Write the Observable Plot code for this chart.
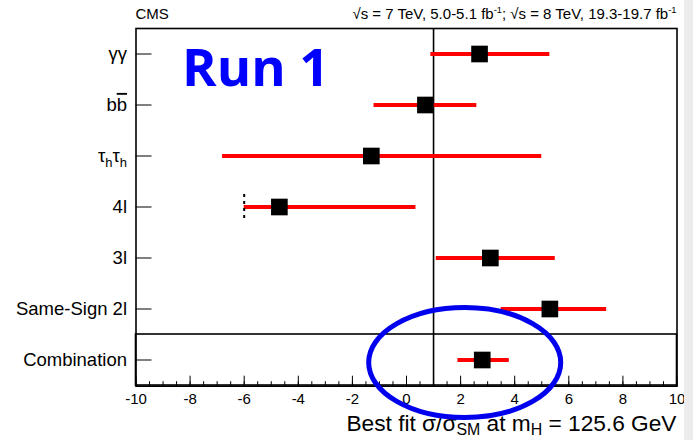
<!DOCTYPE html>
<html>
<head>
<meta charset="utf-8">
<script src="https://cdn.jsdelivr.net/npm/d3@7"></script>
<script src="https://cdn.jsdelivr.net/npm/@observablehq/plot@0.6"></script>
<style>
  html, body { margin: 0; padding: 0; background: #fff; }
  #wrap { position: relative; width: 693px; height: 440px; overflow: hidden; }
  #edge { position: absolute; left: 684px; top: 0; width: 9px; height: 440px; background: #ececec; }
</style>
</head>
<body>
<div id="wrap"><div id="chart"></div><div id="edge"></div></div>
<script>
// ttH signal strength per channel, CMS Run 1
const channels = ["gg", "bb", "tautau", "4l", "3l", "ss2l", "comb"];
// tick labels, with _{} subscripts and ~{} overlines
const channelLabels = ["γγ", "b~{b}", "τ_{h}τ_{h}", "4l", "3l", "Same-Sign 2l", "Combination"];
const bestFit = [2.7, 0.7, -1.3, -4.7, 3.1, 5.3, 2.8];
const errUp   = [2.6, 1.9, 6.3, 5.05, 2.4, 2.1, 1.0];
const errDown = [1.8, 1.9, 5.5, 1.3, 2.0, 1.8, 0.9];
// physical boundary of the 4l fit
const boundaryChannels = ["4l"];
const boundaryValues = [-6.0];
const xTicks = [-10, -8, -6, -4, -2, 0, 2, 4, 6, 8, 10];
const smValue = 1;
const headerLeft = "CMS";
const headerRight = "√s = 7 TeV, 5.0-5.1 fb^{-1}; √s = 8 TeV, 19.3-19.7 fb^{-1}";
const xTitle = "Best fit σ/σ_{SM} at m_{H} = 125.6 GeV";
const runTag = "Run 1";

const rows = channels.map((c, i) => ({
  channel: c,
  mu: bestFit[i],
  lo: bestFit[i] - errDown[i],
  hi: bestFit[i] + errUp[i]
}));
const boundaries = boundaryChannels.map((c, i) => ({channel: c, x: boundaryValues[i]}));
const labelOf = new Map(channels.map((c, i) => [c, channelLabels[i]]));
const plain = s => s.replace(/[_^~]\{([^}]*)\}/g, "$1");
const minorTicks = d3.range(-10, 10.001, 0.5);

const FONT = "'Liberation Sans', Arial, Helvetica, sans-serif";

const plot = Plot.plot({
  width: 693,
  height: 440,
  marginLeft: 135.5,
  marginRight: 16.5,
  marginTop: 28,
  marginBottom: 54.3,
  style: {fontFamily: FONT, fontSize: "15px", color: "#000", background: "transparent"},
  x: {domain: [-10, 10], label: null},
  y: {type: "band", domain: channels, padding: 0, label: null},
  marks: [
    // box around the combination row (separator line)
    Plot.barX(["comb"], {y: d => d, x1: () => -10, x2: () => 10, fill: "none", stroke: "#000", strokeWidth: 1.6}),
    Plot.ruleX([smValue], {stroke: "#000", strokeWidth: 1.6}),
    Plot.ruleY(rows, {y: "channel", x1: "lo", x2: "hi", stroke: "#ff0000", strokeWidth: 4}),
    Plot.tickX(boundaries, {x: "x", y: "channel", stroke: "#000", strokeWidth: 2, strokeDasharray: "3,4", insetTop: 13, insetBottom: 12}),
    Plot.dot(rows, {x: "mu", y: "channel", symbol: "square", r: 9.4, fill: "#000", stroke: "none"}),
    Plot.axisX({ticks: minorTicks, tickSize: -4.5, tickFormat: () => "", stroke: "#000", label: null}),
    Plot.axisX({ticks: xTicks, tickSize: -10, tickFormat: () => "", stroke: "#000", label: null}),
    Plot.axisX({ticks: xTicks, tickSize: 0, tickPadding: 7, fontSize: 15, tickFormat: d => `${d}`, label: null}),
    Plot.axisY({tickSize: -16, tickFormat: () => "", stroke: "#000", label: null}),
    Plot.axisY({tickSize: 0, tickPadding: 9, fontSize: 18.5, tickFormat: c => plain(labelOf.get(c)), label: null}),
    Plot.text([runTag], {x: () => -8.3, y: () => "gg", dy: 15, text: d => d, textAnchor: "start",
      fontFamily: "'Open Sans', sans-serif", fontWeight: "bold", fontSize: 52.5, fill: "#0000ff"}),
    Plot.frame({stroke: "#000", strokeWidth: 1.6})
  ]
});
document.getElementById("chart").appendChild(plot);

// rich text: _{..} subscript, ^{..} superscript, ~{..} overline
function setRich(sel, markup, size, sub = 0.3) {
  sel.text(null);
  const re = /([_^~])\{([^}]*)\}|([^_^~]+)/g;
  let m, shift = 0;
  while ((m = re.exec(markup))) {
    const t = sel.append("tspan");
    if (m[3] !== undefined) {
      t.text(m[3]).attr("dy", -shift); shift = 0;
    } else if (m[1] === "_") {
      const d = sub * size;
      t.text(m[2]).attr("font-size", 0.7 * size).attr("dy", d - shift); shift = d;
    } else if (m[1] === "^") {
      const d = -0.42 * size;
      t.text(m[2]).attr("font-size", 0.62 * size).attr("dy", d - shift); shift = d;
    } else {
      t.text(m[2]).attr("dy", -shift).style("text-decoration", "overline"); shift = 0;
    }
  }
}

{
  const svg = d3.select(plot);
  const xs = plot.scale("x"), ys = plot.scale("y");
  const [xLeft, xRight] = xs.range;
  const [yTop, yBottom] = ys.range;

  // channel labels with subscripts / overline
  svg.selectAll('g[aria-label="y-axis tick label"] text').each(function () {
    const t = d3.select(this);
    const c = channels.find(ch => plain(labelOf.get(ch)) === t.text());
    if (c) setRich(t, labelOf.get(c), 18.5);
  });

  // header
  svg.append("text").attr("x", xLeft).attr("y", yTop - 9).attr("text-anchor", "start")
    .attr("font-family", FONT).attr("font-size", 15).attr("fill", "#000").text(headerLeft);
  const hr = svg.append("text").attr("x", xRight).attr("y", yTop - 9).attr("text-anchor", "end")
    .attr("font-family", FONT).attr("font-size", 15).attr("fill", "#000");
  setRich(hr, headerRight, 15);

  // x title
  const xt = svg.append("text").attr("x", xRight).attr("y", yBottom + 45).attr("text-anchor", "end")
    .attr("font-family", FONT).attr("font-size", 22.7).attr("fill", "#000");
  setRich(xt, xTitle, 22.7, 0.2);

  // highlight around the combined result
  const cx = xs.apply(2.17);
  svg.append("ellipse")
    .attr("cx", cx)
    .attr("cy", ys.apply("comb") + ys.bandwidth / 2 + 3)
    .attr("rx", xs.apply(2.17 + 3.55) - cx)
    .attr("ry", ys.bandwidth * 1.08)
    .attr("fill", "none").attr("stroke", "#0000ee").attr("stroke-width", 5);
}
</script>
</body>
</html>
